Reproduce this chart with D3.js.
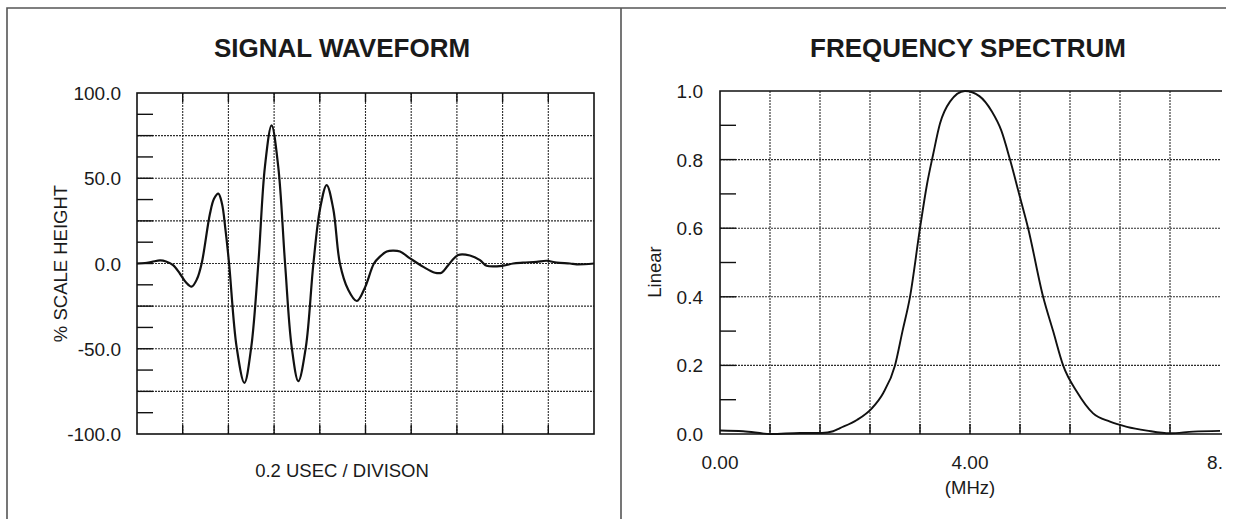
<!DOCTYPE html>
<html>
<head>
<meta charset="utf-8">
<script src="https://cdn.jsdelivr.net/npm/d3@7"></script>
<style>
  body { margin: 0; background: #fff; }
  svg { display: block; font-family: "Liberation Sans", Arial, sans-serif; }
</style>
</head>
<body>
<div id="chart"></div>
<script>
// signal waveform: time in usec (0.2 usec / division), amplitude in % scale height
const waveTime = [0.000, 0.035, 0.066, 0.101, 0.127, 0.158, 0.188, 0.214, 0.239, 0.263,
  0.283, 0.319, 0.337, 0.356, 0.372, 0.387, 0.403, 0.436, 0.470, 0.500,
  0.531, 0.560, 0.589, 0.618, 0.648, 0.677, 0.706, 0.739, 0.772, 0.801,
  0.830, 0.859, 0.888, 0.923, 0.962, 0.998, 1.037, 1.063, 1.093, 1.120,
  1.151, 1.195, 1.253, 1.304, 1.333, 1.362, 1.406, 1.457, 1.501, 1.530,
  1.602, 1.646, 1.689, 1.749, 1.793, 1.837, 1.895, 1.924, 2.000];
const waveAmp = [0, 0.3, 1.0, 1.8, 1.2, -1, -6, -11, -13.6, -9,
  0, 29, 38, 41, 35, 20, 0, -49, -70, -49,
  0, 57, 81, 57, 0, -49, -69, -49, 0, 32,
  46, 32, 0, -15, -22, -14, 0, 4, 7, 7.5,
  7, 3, -2, -5.4, -5.4, -1, 5, 4.7, 2, -1.3,
  -1.3, 0, 0.5, 1, 1.6, 0.5, 0, -0.5, 0];
const waveYTicks = [-100, -50, 0, 50, 100];

// frequency spectrum: MHz vs linear amplitude
const specFreq = [0.00, 0.37, 0.82, 1.28, 1.63, 1.81, 1.92, 2.19, 2.43, 2.61,
  2.80, 2.92, 3.04, 3.20, 3.31, 3.41, 3.52, 3.68, 3.92, 4.15,
  4.35, 4.50, 4.64, 4.80, 4.93, 5.17, 5.33, 5.49, 5.71, 5.97,
  6.24, 6.51, 6.83, 7.20, 7.57, 8.00];
const specAmp = [0.010, 0.008, 0.000, 0.003, 0.003, 0.008, 0.017, 0.041, 0.075, 0.119,
  0.200, 0.300, 0.400, 0.600, 0.726, 0.815, 0.905, 0.969, 1.000, 0.985,
  0.940, 0.885, 0.800, 0.690, 0.600, 0.400, 0.300, 0.200, 0.123, 0.060,
  0.036, 0.021, 0.010, 0.002, 0.007, 0.009];
const specYTicks = [0, 0.2, 0.4, 0.6, 0.8, 1.0];
const specXTicks = [0, 4, 8];
const specXLabels = ["0.00", "4.00", "8."];

function init() {
  const W = 1235, H = 519;
  const svg = d3.select("#chart").append("svg")
    .attr("width", W).attr("height", H);

  // page frame + divider
  svg.append("path")
    .attr("d", `M7,${H}V8H1226M621,8V${H}`)
    .attr("fill", "none").attr("stroke", "#555").attr("stroke-width", 1.6);

  const gridColor = "#2e2e2e";

  function grid(g, x, y, xs, ys) {
    g.selectAll(".vg").data(xs).join("line")
      .attr("x1", d => x(d)).attr("x2", d => x(d))
      .attr("y1", y.range()[1]).attr("y2", y.range()[0])
      .attr("stroke", gridColor).attr("stroke-width", 1.1).attr("stroke-dasharray", "2,1");
    g.selectAll(".hg").data(ys).join("line")
      .attr("x1", x.range()[0]).attr("x2", x.range()[1])
      .attr("y1", d => y(d)).attr("y2", d => y(d))
      .attr("stroke", gridColor).attr("stroke-width", 1.1).attr("stroke-dasharray", "2,1");
  }

  function ticks(g, x, y, xs, ys, len, top) {
    g.selectAll(".yt").data(ys).join("line")
      .attr("x1", x.range()[0]).attr("x2", x.range()[0] + 16)
      .attr("y1", d => y(d)).attr("y2", d => y(d))
      .attr("stroke", "#111").attr("stroke-width", 1.4);
    g.selectAll(".xb").data(xs).join("line")
      .attr("x1", d => x(d)).attr("x2", d => x(d))
      .attr("y1", y.range()[0]).attr("y2", y.range()[0] - len)
      .attr("stroke", "#111").attr("stroke-width", 1.4);
    if (top) {
      g.selectAll(".xt").data(xs).join("line")
        .attr("x1", d => x(d)).attr("x2", d => x(d))
        .attr("y1", y.range()[1]).attr("y2", y.range()[1] + len)
        .attr("stroke", "#111").attr("stroke-width", 1.4);
    }
  }

  // ---- left: signal waveform ----
  const x1 = d3.scaleLinear().domain([0, 2.0]).range([137, 594]);
  const y1 = d3.scaleLinear().domain([-100, 100]).range([434, 93]);
  const left = svg.append("g");

  grid(left.append("g"), x1, y1,
    d3.range(1, 10).map(i => i * 0.2),
    d3.range(-3, 4).map(i => i * 25));
  ticks(left.append("g"), x1, y1,
    d3.range(1, 10).map(i => i * 0.2),
    d3.range(-7, 8).map(i => i * 12.5), 9, true);

  left.append("rect")
    .attr("x", x1.range()[0]).attr("y", y1.range()[1])
    .attr("width", x1.range()[1] - x1.range()[0])
    .attr("height", y1.range()[0] - y1.range()[1])
    .attr("fill", "none").attr("stroke", "#111").attr("stroke-width", 1.6);

  const waveLine = d3.line()
    .x((d, i) => x1(waveTime[i]))
    .y(d => y1(d))
    .curve(d3.curveCatmullRom.alpha(0.5));
  left.append("path")
    .attr("d", waveLine(waveAmp))
    .attr("fill", "none").attr("stroke", "#111").attr("stroke-width", 2.2);

  left.selectAll(".ylab").data(waveYTicks).join("text")
    .attr("x", x1.range()[0] - 16).attr("y", d => y1(d) + 7)
    .attr("text-anchor", "end").attr("font-size", 19).attr("fill", "#1a1a1a")
    .text(d => d.toFixed(1));

  left.append("text")
    .attr("transform", `translate(67,${(y1.range()[0] + y1.range()[1]) / 2}) rotate(-90)`)
    .attr("text-anchor", "middle").attr("font-size", 18.5).attr("fill", "#1a1a1a")
    .text("% SCALE HEIGHT");

  left.append("text")
    .attr("x", 342).attr("y", 477)
    .attr("text-anchor", "middle").attr("font-size", 18.5).attr("fill", "#1a1a1a")
    .text("0.2 USEC / DIVISON");

  left.append("text")
    .attr("x", 342).attr("y", 57)
    .attr("text-anchor", "middle").attr("font-size", 26).attr("font-weight", "bold").attr("fill", "#1a1a1a")
    .text("SIGNAL WAVEFORM");

  // ---- right: frequency spectrum ----
  const x2 = d3.scaleLinear().domain([0, 8]).range([720, 1220]);
  const y2 = d3.scaleLinear().domain([0, 1]).range([434, 91]);
  const right = svg.append("g");

  grid(right.append("g"), x2, y2,
    d3.range(1, 10).map(i => i * 0.8),
    d3.range(1, 5).map(i => i * 0.2));
  ticks(right.append("g"), x2, y2,
    d3.range(1, 10).map(i => i * 0.8),
    d3.range(1, 10).map(i => i * 0.1), 10, false);

  // frame without right edge
  right.append("path")
    .attr("d", `M1222,${y2(1)}H${x2(0)}V${y2(0)}H1222`)
    .attr("fill", "none").attr("stroke", "#111").attr("stroke-width", 1.6);

  const specLine = d3.line()
    .x((d, i) => x2(specFreq[i]))
    .y(d => y2(d))
    .curve(d3.curveMonotoneX);
  right.append("path")
    .attr("d", specLine(specAmp))
    .attr("fill", "none").attr("stroke", "#111").attr("stroke-width", 1.9);

  right.selectAll(".ylab").data(specYTicks).join("text")
    .attr("x", x2.range()[0] - 17).attr("y", d => y2(d) + 7)
    .attr("text-anchor", "end").attr("font-size", 19).attr("fill", "#1a1a1a")
    .text(d => d.toFixed(1));

  right.selectAll(".xlab").data(specXTicks).join("text")
    .attr("x", (d, i) => i === specXTicks.length - 1 ? x2(d) - 5 : x2(d)).attr("y", 469)
    .attr("text-anchor", "middle").attr("font-size", 19).attr("fill", "#1a1a1a")
    .text((d, i) => specXLabels[i]);

  right.append("text")
    .attr("x", x2(4)).attr("y", 494)
    .attr("text-anchor", "middle").attr("font-size", 18.5).attr("fill", "#1a1a1a")
    .text("(MHz)");

  right.append("text")
    .attr("transform", `translate(661,272) rotate(-90)`)
    .attr("text-anchor", "middle").attr("font-size", 18.5).attr("fill", "#1a1a1a")
    .text("Linear");

  right.append("text")
    .attr("x", 968).attr("y", 57)
    .attr("text-anchor", "middle").attr("font-size", 26).attr("font-weight", "bold").attr("fill", "#1a1a1a")
    .text("FREQUENCY SPECTRUM");
}

window.onload = init;
</script>
</body>
</html>
